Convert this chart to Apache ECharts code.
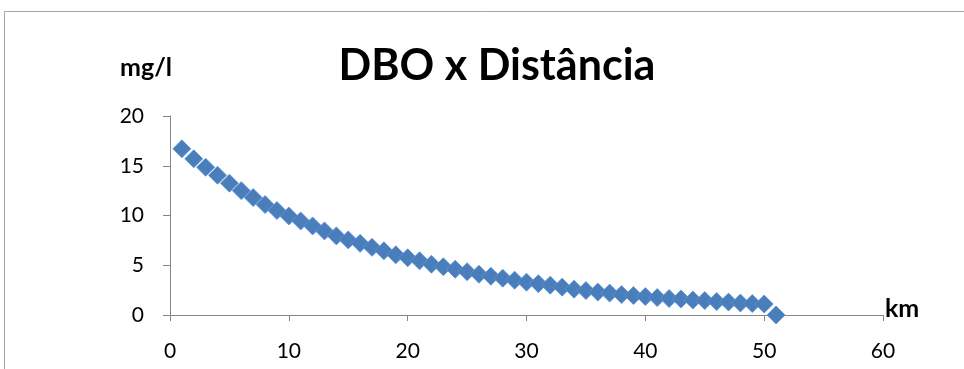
<!DOCTYPE html>
<html>
<head>
<meta charset="utf-8">
<script src="https://cdn.jsdelivr.net/npm/echarts@6/dist/echarts.min.js"></script>
<style>
html,body{margin:0;padding:0;background:#fff;}
#c{width:964px;height:369px;}
</style>
</head>
<body>
<div id="c"></div>
<script>
var distances = [1,2,3,4,5,6,7,8,9,10,11,12,13,14,15,16,17,18,19,20,21,22,23,24,25,26,27,28,29,30,31,32,33,34,35,36,37,38,39,40,41,42,43,44,45,46,47,48,49,50,51];
var dbo = [16.7,15.7,14.85,14.05,13.25,12.5,11.8,11.1,10.5,9.95,9.45,8.95,8.45,7.95,7.55,7.2,6.8,6.45,6.05,5.75,5.45,5.1,4.85,4.6,4.35,4.1,3.9,3.7,3.5,3.3,3.15,3.0,2.8,2.6,2.45,2.3,2.2,2.05,1.95,1.85,1.75,1.65,1.6,1.5,1.45,1.35,1.3,1.2,1.15,1.1,0];
var titleText = 'DBO x Distância';
var yUnit = 'mg/l';
var xUnit = 'km';

var points = distances.map(function(d, i){ return [d, dbo[i]]; });
var font = 'Lato, "Open Sans", sans-serif';
var chart = echarts.init(document.getElementById('c'), null, {renderer:'canvas'});
chart.setOption({
  backgroundColor:'#ffffff',
  animation:false,
  title:{
    text:titleText,
    left:492, top:40, textAlign:'center',
    textStyle:{fontFamily:font, fontSize:43, fontWeight:'bold', color:'#000'}
  },
  grid:{left:170, right:81, top:116, bottom:54, containLabel:false},
  xAxis:{
    type:'value', min:0, max:60, interval:10,
    axisLine:{lineStyle:{color:'#868686', width:1}},
    axisTick:{show:true, inside:false, length:6, lineStyle:{color:'#868686'}},
    splitLine:{show:false},
    axisLabel:{margin:26, fontFamily:font, fontSize:21, color:'#000'}
  },
  yAxis:{
    type:'value', min:0, max:20, interval:5,
    axisLine:{show:true, lineStyle:{color:'#868686', width:1}},
    axisTick:{show:true, inside:false, length:7, lineStyle:{color:'#868686'}},
    splitLine:{show:false},
    axisLabel:{margin:26, fontFamily:font, fontSize:21, color:'#000'}
  },
  graphic:[
    {type:'rect', silent:true, shape:{x:4.5, y:11.5, width:1000, height:420},
     style:{fill:null, stroke:'#a6a6a6', lineWidth:1}},
    {type:'text', x:146, y:68, silent:true,
     style:{text:yUnit, font:'bold 25px '+font, fill:'#000', textAlign:'center', textVerticalAlign:'middle'}},
    {type:'text', x:885, y:309, silent:true,
     style:{text:xUnit, font:'bold 25px '+font, fill:'#000', textAlign:'left', textVerticalAlign:'middle'}}
  ],
  series:[{
    type:'scatter',
    data:points,
    symbol:'diamond',
    symbolSize:18,
    itemStyle:{color:'#4a7ebb', borderColor:'#5a92d6', borderWidth:0.8, opacity:1}
  }]
});
</script>
</body>
</html>
